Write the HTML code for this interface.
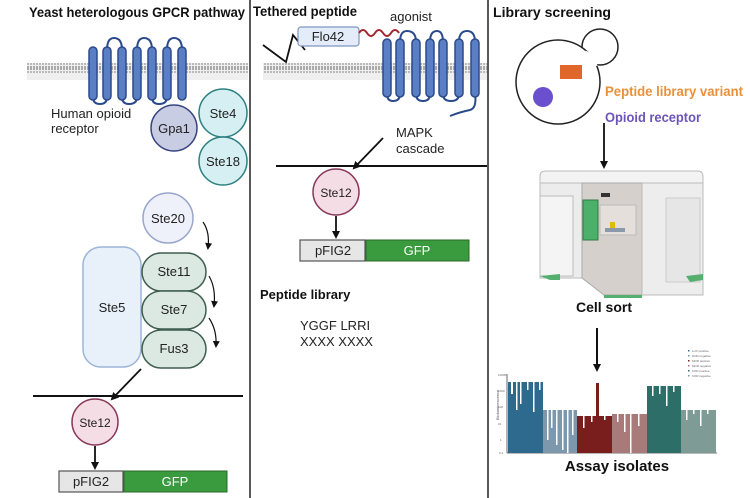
<!DOCTYPE html>
<html><head><meta charset="utf-8"><style>
html,body{margin:0;padding:0;background:#fff;}
svg{display:block;font-family:"Liberation Sans",sans-serif;}
</style></head><body>
<svg width="750" height="498" viewBox="0 0 750 498" xmlns="http://www.w3.org/2000/svg">
<defs>
<marker id="ah" markerWidth="8" markerHeight="8" refX="6" refY="4" orient="auto" markerUnits="userSpaceOnUse"><path d="M0,0 L8,4 L0,8 z" fill="#111"/></marker>
<marker id="ahs" markerWidth="7" markerHeight="7" refX="5" refY="3.5" orient="auto" markerUnits="userSpaceOnUse"><path d="M0,0 L7,3.5 L0,7 z" fill="#111"/></marker>
<pattern id="mem" width="3" height="17" patternUnits="userSpaceOnUse">
<rect width="3" height="17" fill="#efefef"/>
<rect x="0" y="0" width="2" height="2" fill="#aaa"/><rect x="0" y="3" width="2" height="2" fill="#bbb"/>
<rect x="0" y="12" width="2" height="2" fill="#bbb"/><rect x="0" y="15" width="2" height="2" fill="#aaa"/>
</pattern>
</defs>
<line x1="250" y1="0" x2="250" y2="498" stroke="#222" stroke-width="1.5"/>
<line x1="488" y1="0" x2="488" y2="498" stroke="#222" stroke-width="1.5"/>

<!-- LEFT PANEL -->
<text x="29" y="17" font-size="14" font-weight="bold" fill="#111" textLength="216" lengthAdjust="spacingAndGlyphs">Yeast heterologous GPCR pathway</text>
<rect x="27" y="63" width="221" height="17" fill="url(#mem)"/>
<g fill="none" stroke="#2b4a8c" stroke-width="2">
<path d="M107,50 Q107,38 114,38 Q122,38 122,50"/>
<path d="M137,50 Q137,38 144,38 Q152,38 152,50"/>
<path d="M167,50 Q167,38 174,38 Q182,38 182,50"/>
<path d="M93,97 Q93,104 100,104 Q107,104 107,97"/>
<path d="M122,97 Q122,104 129,104 Q137,104 137,97"/>
<path d="M152,97 Q152,104 159,104 Q167,104 167,97"/>
</g>
<g fill="#5b7fc4" stroke="#2b4a8c" stroke-width="1.5">
<rect x="89" y="47" width="8" height="53" rx="4"/><rect x="103" y="47" width="8" height="53" rx="4"/>
<rect x="118" y="47" width="8" height="53" rx="4"/><rect x="133" y="47" width="8" height="53" rx="4"/>
<rect x="148" y="47" width="8" height="53" rx="4"/><rect x="163" y="47" width="8" height="53" rx="4"/>
<rect x="178" y="47" width="8" height="53" rx="4"/>
</g>
<text x="51" y="118" font-size="13" fill="#222">Human opioid</text>
<text x="51" y="133" font-size="13" fill="#222">receptor</text>
<circle cx="174" cy="128" r="23" fill="#c9cde4" stroke="#3a4680" stroke-width="1.5"/>
<text x="174" y="133" font-size="13" text-anchor="middle" fill="#222">Gpa1</text>
<circle cx="223" cy="113" r="24" fill="#d6eff3" stroke="#2b8080" stroke-width="1.5"/>
<text x="223" y="118" font-size="13" text-anchor="middle" fill="#222">Ste4</text>
<circle cx="223" cy="161" r="24" fill="#d6eff3" stroke="#2b8080" stroke-width="1.5"/>
<text x="223" y="166" font-size="13" text-anchor="middle" fill="#222">Ste18</text>

<circle cx="168" cy="218" r="25" fill="#eef1fa" stroke="#9aa5cc" stroke-width="1.5"/>
<text x="168" y="223" font-size="13" text-anchor="middle" fill="#222">Ste20</text>
<path d="M203,222 Q210,232 208,248" fill="none" stroke="#111" stroke-width="1.2" marker-end="url(#ahs)"/>
<rect x="83" y="247" width="58" height="120" rx="18" fill="#e8f0fa" stroke="#9bb5d8" stroke-width="1.5"/>
<text x="112" y="312" font-size="13" text-anchor="middle" fill="#222">Ste5</text>
<g fill="#dce9e3" stroke="#3f5e52" stroke-width="1.5">
<rect x="142" y="253" width="64" height="38" rx="19"/>
<rect x="142" y="291" width="64" height="38" rx="19"/>
<rect x="142" y="330" width="64" height="38" rx="19"/>
</g>
<text x="174" y="276" font-size="13" text-anchor="middle" fill="#222">Ste11</text>
<text x="174" y="314" font-size="13" text-anchor="middle" fill="#222">Ste7</text>
<text x="174" y="353" font-size="13" text-anchor="middle" fill="#222">Fus3</text>
<path d="M209,276 Q216,288 214,306" fill="none" stroke="#111" stroke-width="1.2" marker-end="url(#ahs)"/>
<path d="M209,318 Q217,330 216,346" fill="none" stroke="#111" stroke-width="1.2" marker-end="url(#ahs)"/>
<line x1="33" y1="396" x2="243" y2="396" stroke="#111" stroke-width="2"/>
<line x1="141" y1="369" x2="112" y2="399" stroke="#111" stroke-width="1.8" marker-end="url(#ah)"/>
<circle cx="95" cy="422" r="23" fill="#f5dde6" stroke="#8a3a5a" stroke-width="1.5"/>
<text x="95" y="427" font-size="12" text-anchor="middle" fill="#222">Ste12</text>
<line x1="95" y1="446" x2="95" y2="468" stroke="#111" stroke-width="1.8" marker-end="url(#ah)"/>
<rect x="59" y="471" width="64" height="21" fill="#e6e6e6" stroke="#555" stroke-width="1.2"/>
<text x="91" y="486" font-size="13" text-anchor="middle" fill="#222">pFIG2</text>
<rect x="124" y="471" width="103" height="21" fill="#3a9a3e" stroke="#2a6a2a" stroke-width="1"/>
<text x="175" y="486" font-size="13" text-anchor="middle" fill="#fff">GFP</text>

<!-- MIDDLE PANEL -->
<text x="253" y="16" font-size="14" font-weight="bold" fill="#111" textLength="104" lengthAdjust="spacingAndGlyphs">Tethered peptide</text>
<rect x="263" y="63" width="224" height="17" fill="url(#mem)"/>
<polyline points="263,45 286,62 293,35 305,50" fill="none" stroke="#111" stroke-width="1.8"/>
<rect x="298" y="27" width="61" height="19" rx="3" fill="#e3ecf8" stroke="#7d97c0" stroke-width="1.2"/>
<text x="328" y="41" font-size="13" text-anchor="middle" fill="#222">Flo42</text>
<path d="M359,33 q4,-6 8,0 t8,0 t8,0 t8,0 t8,0" fill="none" stroke="#a3262e" stroke-width="2"/>
<text x="390" y="21" font-size="13" fill="#222">agonist</text>
<g fill="none" stroke="#2b4a8c" stroke-width="2">
<path d="M400,42 Q400,31 407,31 Q416,31 416,42"/>
<path d="M430,42 Q430,31 437,31 Q443,31 443,42"/>
<path d="M459,42 Q459,31 467,31 Q475,31 475,42"/>
<path d="M387,94 Q387,101 393,101 Q400,101 400,94"/>
<path d="M416,94 Q416,101 423,101 Q430,101 430,94"/>
<path d="M443,94 Q443,101 451,101 Q459,101 459,94"/>
<path d="M475,94 Q477,108 470,110 Q460,112 450,116"/>
</g>
<g fill="#5b7fc4" stroke="#2b4a8c" stroke-width="1.5">
<rect x="383" y="39" width="8" height="58" rx="4"/><rect x="396" y="39" width="8" height="58" rx="4"/>
<rect x="412" y="39" width="8" height="58" rx="4"/><rect x="426" y="39" width="8" height="58" rx="4"/>
<rect x="439" y="39" width="8" height="58" rx="4"/><rect x="455" y="39" width="8" height="58" rx="4"/>
<rect x="471" y="39" width="8" height="58" rx="4"/>
</g>
<text x="396" y="137" font-size="13" fill="#222">MAPK</text>
<text x="396" y="153" font-size="13" fill="#222">cascade</text>
<line x1="276" y1="166" x2="487" y2="166" stroke="#111" stroke-width="2"/>
<line x1="383" y1="138" x2="354" y2="168" stroke="#111" stroke-width="1.8" marker-end="url(#ah)"/>
<circle cx="336" cy="192" r="23" fill="#f5dde6" stroke="#8a3a5a" stroke-width="1.5"/>
<text x="336" y="197" font-size="12" text-anchor="middle" fill="#222">Ste12</text>
<line x1="336" y1="216" x2="336" y2="237" stroke="#111" stroke-width="1.8" marker-end="url(#ah)"/>
<rect x="300" y="240" width="65" height="21" fill="#e6e6e6" stroke="#555" stroke-width="1.2"/>
<text x="333" y="255" font-size="13" text-anchor="middle" fill="#222">pFIG2</text>
<rect x="366" y="240" width="103" height="21" fill="#3a9a3e" stroke="#2a6a2a" stroke-width="1"/>
<text x="417" y="255" font-size="13" text-anchor="middle" fill="#fff">GFP</text>
<text x="260" y="299" font-size="13" font-weight="bold" fill="#111">Peptide library</text>
<text x="300" y="330" font-size="13" fill="#222">YGGF LRRI</text>
<text x="300" y="346" font-size="13" fill="#222">XXXX XXXX</text>

<!-- RIGHT PANEL -->
<text x="493" y="17" font-size="14" font-weight="bold" fill="#111" textLength="118" lengthAdjust="spacingAndGlyphs">Library screening</text>
<circle cx="600" cy="47" r="18" fill="#fff" stroke="#222" stroke-width="1.5"/>
<circle cx="558" cy="82" r="42" fill="#fff" stroke="#222" stroke-width="1.5"/>
<path d="M585,52 A18,18 0 0 1 596,66" fill="none" stroke="#fff" stroke-width="3"/>
<rect x="560" y="65" width="22" height="14" fill="#e0662a"/>
<circle cx="543" cy="97" r="10" fill="#6a4fcf"/>
<text x="605" y="96" font-size="14" font-weight="bold" fill="#e8913a" textLength="138" lengthAdjust="spacingAndGlyphs">Peptide library variant</text>
<text x="605" y="122" font-size="14" font-weight="bold" fill="#6b55b8" textLength="96" lengthAdjust="spacingAndGlyphs">Opioid receptor</text>
<line x1="604" y1="123" x2="604" y2="167" stroke="#111" stroke-width="1.8" marker-end="url(#ah)"/>

<!-- sorter -->
<path d="M540,176 Q540,171 546,171 L698,171 Q703,171 703,177 L703,186 L540,186 z" fill="#f3f3f3" stroke="#bbb"/>
<rect x="540" y="183" width="42" height="95" fill="#ececec" stroke="#bbb"/>
<rect x="540" y="196" width="33" height="80" fill="#f4f4f4" stroke="#bbb"/>
<path d="M582,183 L642,183 L642,295 L604,295 L582,278 z" fill="#d6d0cc" stroke="#aaa"/>
<rect x="642" y="183" width="61" height="112" fill="#ededed" stroke="#bbb"/>
<rect x="666" y="198" width="34" height="84" fill="#e6e6e6" stroke="#ccc"/>
<rect x="583" y="200" width="15" height="40" fill="#4cb06a" stroke="#2f7a45"/>
<rect x="600" y="205" width="36" height="30" fill="#e4dfdb" stroke="#bbb"/>
<rect x="610" y="222" width="5" height="6" fill="#e6b800"/>
<rect x="605" y="228" width="20" height="4" fill="#8a9aa8"/>
<rect x="601" y="193" width="9" height="4" fill="#333"/>
<path d="M540,276 L550,280 L560,280 L560,274 z" fill="#55b070"/>
<path d="M604,295 L642,295 L642,298 L604,298 z" fill="#55b070"/>
<path d="M686,276 L703,274 L703,280 L690,282 z" fill="#55b070"/>
<text x="604" y="312" font-size="14" font-weight="bold" text-anchor="middle" fill="#111">Cell sort</text>
<line x1="597" y1="328" x2="597" y2="370" stroke="#111" stroke-width="2" marker-end="url(#ah)"/>

<!-- chart -->
<line x1="507" y1="374" x2="507" y2="453" stroke="#444" stroke-width="0.8"/>
<line x1="507" y1="453" x2="717" y2="453" stroke="#444" stroke-width="0.8"/>
<text x="499" y="420" font-size="4" fill="#555" transform="rotate(-90 499 420)">Bioluminescence</text>
<g font-size="3" fill="#666">
<text x="498" y="376">10000</text><text x="498" y="392">1000</text><text x="498" y="408">100</text><text x="498" y="425">10</text><text x="500" y="441">1</text><text x="499" y="454">0.1</text>
</g>
<rect x="508" y="382" width="35" height="71" fill="#2e6a8e"/>
<rect x="543" y="410" width="34" height="43" fill="#7d98ad"/>
<rect x="577" y="416" width="35" height="37" fill="#7a1d1d"/>
<rect x="596" y="383" width="3" height="33" fill="#7a1d1d"/>
<rect x="612" y="414" width="35" height="39" fill="#a87a7a"/>
<rect x="647" y="386" width="34" height="67" fill="#2d6e68"/>
<rect x="681" y="410" width="35" height="43" fill="#7f9b96"/>
<g fill="#fff">
<rect x="511" y="382" width="2" height="12"/><rect x="516" y="382" width="1.5" height="28"/><rect x="520" y="382" width="1.5" height="22"/><rect x="527" y="382" width="1.5" height="8"/><rect x="533" y="382" width="1.5" height="30"/><rect x="539" y="382" width="1.5" height="8"/>
<rect x="547" y="410" width="1.5" height="30"/><rect x="551" y="410" width="1.5" height="18"/><rect x="556" y="410" width="1.5" height="35"/><rect x="562" y="410" width="1.5" height="40"/><rect x="567" y="410" width="1.5" height="43"/><rect x="572" y="410" width="1.5" height="25"/>
<rect x="583" y="416" width="1.5" height="12"/><rect x="591" y="416" width="1.5" height="6"/><rect x="604" y="416" width="1.5" height="4"/>
<rect x="617" y="414" width="1.5" height="8"/><rect x="624" y="414" width="1.5" height="18"/><rect x="630" y="414" width="1.5" height="39"/><rect x="638" y="414" width="1.5" height="12"/>
<rect x="652" y="386" width="1.5" height="10"/><rect x="659" y="386" width="1.5" height="8"/><rect x="666" y="386" width="1.5" height="20"/><rect x="673" y="386" width="1.5" height="6"/>
<rect x="686" y="410" width="1.5" height="10"/><rect x="693" y="410" width="1.5" height="4"/><rect x="700" y="410" width="1.5" height="16"/><rect x="707" y="410" width="1.5" height="4"/>
</g>
<g font-size="3" fill="#666">
<rect x="688" y="350" width="1.5" height="1.5" fill="#2e6a8e"/><text x="692" y="352">LUV positive</text>
<rect x="688" y="355" width="1.5" height="1.5" fill="#7d98ad"/><text x="692" y="357">DOR negative</text>
<rect x="688" y="360" width="1.5" height="1.5" fill="#7a1d1d"/><text x="692" y="362">MOR positive</text>
<rect x="688" y="365" width="1.5" height="1.5" fill="#a87a7a"/><text x="692" y="367">MOR negative</text>
<rect x="688" y="370" width="1.5" height="1.5" fill="#2d6e68"/><text x="692" y="372">KOR positive</text>
<rect x="688" y="375" width="1.5" height="1.5" fill="#7f9b96"/><text x="692" y="377">KOR negative</text>
</g>
<text x="617" y="471" font-size="15" font-weight="bold" text-anchor="middle" fill="#111">Assay isolates</text>
</svg>
</body></html>
